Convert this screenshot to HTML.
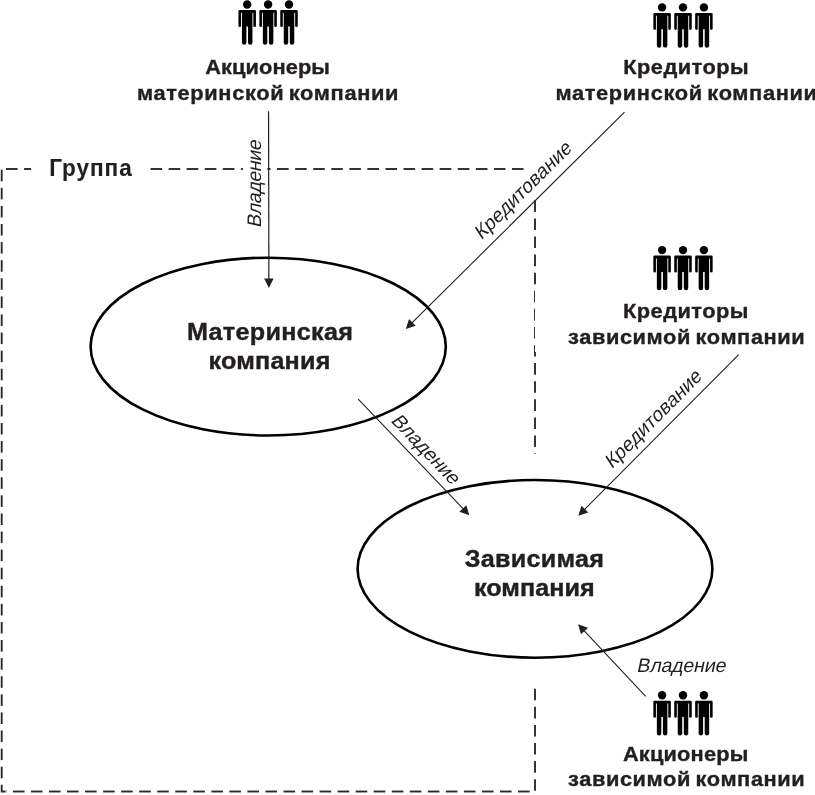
<!DOCTYPE html>
<html><head><meta charset="utf-8"><style>
html,body{margin:0;padding:0;background:#fff;width:815px;height:795px;overflow:hidden}
svg{display:block;will-change:transform}
</style></head><body>
<svg width="815" height="795" viewBox="0 0 815 795">
<g stroke="#2a2a2a" stroke-width="1.9" fill="none"><line x1="1.7" y1="169.70" x2="1.7" y2="181.30"/><line x1="1.7" y1="187.79" x2="1.7" y2="199.39"/><line x1="1.7" y1="205.88" x2="1.7" y2="217.48"/><line x1="1.7" y1="223.97" x2="1.7" y2="235.57"/><line x1="1.7" y1="242.06" x2="1.7" y2="253.66"/><line x1="1.7" y1="260.15" x2="1.7" y2="271.75"/><line x1="1.7" y1="278.24" x2="1.7" y2="289.84"/><line x1="1.7" y1="296.33" x2="1.7" y2="307.93"/><line x1="1.7" y1="314.42" x2="1.7" y2="326.02"/><line x1="1.7" y1="332.51" x2="1.7" y2="344.11"/><line x1="1.7" y1="350.60" x2="1.7" y2="362.20"/><line x1="1.7" y1="368.69" x2="1.7" y2="380.29"/><line x1="1.7" y1="386.78" x2="1.7" y2="398.38"/><line x1="1.7" y1="404.87" x2="1.7" y2="416.47"/><line x1="1.7" y1="422.96" x2="1.7" y2="434.56"/><line x1="1.7" y1="441.05" x2="1.7" y2="452.65"/><line x1="1.7" y1="459.14" x2="1.7" y2="470.74"/><line x1="1.7" y1="477.23" x2="1.7" y2="488.83"/><line x1="1.7" y1="495.32" x2="1.7" y2="506.92"/><line x1="1.7" y1="513.41" x2="1.7" y2="525.01"/><line x1="1.7" y1="531.50" x2="1.7" y2="543.10"/><line x1="1.7" y1="549.59" x2="1.7" y2="561.19"/><line x1="1.7" y1="567.68" x2="1.7" y2="579.28"/><line x1="1.7" y1="585.77" x2="1.7" y2="597.37"/><line x1="1.7" y1="603.86" x2="1.7" y2="615.46"/><line x1="1.7" y1="621.95" x2="1.7" y2="633.55"/><line x1="1.7" y1="640.04" x2="1.7" y2="651.64"/><line x1="1.7" y1="658.13" x2="1.7" y2="669.73"/><line x1="1.7" y1="676.22" x2="1.7" y2="687.82"/><line x1="1.7" y1="694.31" x2="1.7" y2="705.91"/><line x1="1.7" y1="712.40" x2="1.7" y2="724.00"/><line x1="1.7" y1="730.49" x2="1.7" y2="742.09"/><line x1="1.7" y1="748.58" x2="1.7" y2="760.18"/><line x1="1.7" y1="766.67" x2="1.7" y2="778.27"/><line x1="6.00" y1="791.5" x2="6.46" y2="791.5"/><line x1="12.90" y1="791.5" x2="24.50" y2="791.5"/><line x1="30.94" y1="791.5" x2="42.54" y2="791.5"/><line x1="48.98" y1="791.5" x2="60.58" y2="791.5"/><line x1="67.02" y1="791.5" x2="78.62" y2="791.5"/><line x1="85.06" y1="791.5" x2="96.66" y2="791.5"/><line x1="103.10" y1="791.5" x2="114.70" y2="791.5"/><line x1="121.14" y1="791.5" x2="132.74" y2="791.5"/><line x1="139.18" y1="791.5" x2="150.78" y2="791.5"/><line x1="157.22" y1="791.5" x2="168.82" y2="791.5"/><line x1="175.26" y1="791.5" x2="186.86" y2="791.5"/><line x1="193.30" y1="791.5" x2="204.90" y2="791.5"/><line x1="211.34" y1="791.5" x2="222.94" y2="791.5"/><line x1="229.38" y1="791.5" x2="240.98" y2="791.5"/><line x1="247.42" y1="791.5" x2="259.02" y2="791.5"/><line x1="265.46" y1="791.5" x2="277.06" y2="791.5"/><line x1="283.50" y1="791.5" x2="295.10" y2="791.5"/><line x1="301.54" y1="791.5" x2="313.14" y2="791.5"/><line x1="319.58" y1="791.5" x2="331.18" y2="791.5"/><line x1="337.62" y1="791.5" x2="349.22" y2="791.5"/><line x1="355.66" y1="791.5" x2="367.26" y2="791.5"/><line x1="373.70" y1="791.5" x2="385.30" y2="791.5"/><line x1="391.74" y1="791.5" x2="403.34" y2="791.5"/><line x1="409.78" y1="791.5" x2="421.38" y2="791.5"/><line x1="427.82" y1="791.5" x2="439.42" y2="791.5"/><line x1="445.86" y1="791.5" x2="457.46" y2="791.5"/><line x1="463.90" y1="791.5" x2="475.50" y2="791.5"/><line x1="481.94" y1="791.5" x2="493.54" y2="791.5"/><line x1="499.98" y1="791.5" x2="511.58" y2="791.5"/><line x1="518.02" y1="791.5" x2="529.62" y2="791.5"/><path d="M1.7,784.7 V791.5 H5.5" stroke-linejoin="miter"/><line x1="6.00" y1="169" x2="17.60" y2="169"/><line x1="24.07" y1="169" x2="31.10" y2="169"/><line x1="150.56" y1="169" x2="162.16" y2="169"/><line x1="168.63" y1="169" x2="180.23" y2="169"/><line x1="186.70" y1="169" x2="198.30" y2="169"/><line x1="204.77" y1="169" x2="216.37" y2="169"/><line x1="222.84" y1="169" x2="234.44" y2="169"/><line x1="240.91" y1="169" x2="243.00" y2="169"/><line x1="267.30" y1="169" x2="270.58" y2="169"/><line x1="277.05" y1="169" x2="288.65" y2="169"/><line x1="295.12" y1="169" x2="306.72" y2="169"/><line x1="313.19" y1="169" x2="324.79" y2="169"/><line x1="331.26" y1="169" x2="342.86" y2="169"/><line x1="349.33" y1="169" x2="360.93" y2="169"/><line x1="367.40" y1="169" x2="379.00" y2="169"/><line x1="385.47" y1="169" x2="397.07" y2="169"/><line x1="403.54" y1="169" x2="415.14" y2="169"/><line x1="421.61" y1="169" x2="433.21" y2="169"/><line x1="439.68" y1="169" x2="451.28" y2="169"/><line x1="457.75" y1="169" x2="469.35" y2="169"/><line x1="475.82" y1="169" x2="487.42" y2="169"/><line x1="493.89" y1="169" x2="505.49" y2="169"/><line x1="511.96" y1="169" x2="523.56" y2="169"/><line x1="535" y1="200.30" x2="535" y2="211.90"/><line x1="535" y1="218.39" x2="535" y2="229.99"/><line x1="535" y1="236.48" x2="535" y2="248.08"/><line x1="535" y1="254.57" x2="535" y2="266.17"/><line x1="535" y1="272.66" x2="535" y2="284.26"/><line x1="535" y1="290.75" x2="535" y2="302.35"/><line x1="535" y1="308.84" x2="535" y2="320.44"/><line x1="535" y1="326.93" x2="535" y2="338.53"/><line x1="535" y1="345.02" x2="535" y2="356.62"/><line x1="535" y1="363.11" x2="535" y2="374.71"/><line x1="535" y1="381.20" x2="535" y2="392.80"/><line x1="535" y1="399.29" x2="535" y2="410.89"/><line x1="535" y1="417.38" x2="535" y2="428.98"/><line x1="535" y1="435.47" x2="535" y2="447.07"/><line x1="535" y1="453.56" x2="535" y2="454.00"/><line x1="535" y1="688.73" x2="535" y2="700.33"/><line x1="535" y1="706.82" x2="535" y2="718.42"/><line x1="535" y1="724.91" x2="535" y2="736.51"/><line x1="535" y1="743.00" x2="535" y2="754.60"/><line x1="535" y1="761.09" x2="535" y2="772.69"/><line x1="535" y1="779.18" x2="535" y2="790.78"/></g><rect x="535.0" y="290.2" width="4" height="61.8" fill="#fff"/>
<ellipse cx="268.2" cy="346.6" rx="177.6" ry="88.9" fill="none" stroke="#000" stroke-width="2.6"/>
<ellipse cx="535.0" cy="568.85" rx="177.4" ry="88.85" fill="none" stroke="#000" stroke-width="2.6"/>
<g fill="#000"><circle cx="247.20" cy="4.50" r="4.2"/><path d="M238.45,25.70 V11.20 Q238.45,10.00 239.65,10.00 H254.75 Q255.95,10.00 255.95,11.20 V25.70 A1.3,1.3 0 0 1 253.35,25.70 V12.80 H252.45 V26.40 H241.95 V12.80 H241.05 V25.70 A1.3,1.3 0 0 1 238.45,25.70 Z"/><path d="M241.95,25.90 H246.40 V42.50 A2.2,2.2 0 0 1 241.95,42.50 Z"/><path d="M248.00,25.90 H252.45 V42.50 A2.2,2.2 0 0 1 248.00,42.50 Z"/><circle cx="268.10" cy="4.50" r="4.2"/><path d="M259.35,25.70 V11.20 Q259.35,10.00 260.55,10.00 H275.65 Q276.85,10.00 276.85,11.20 V25.70 A1.3,1.3 0 0 1 274.25,25.70 V12.80 H273.35 V26.40 H262.85 V12.80 H261.95 V25.70 A1.3,1.3 0 0 1 259.35,25.70 Z"/><path d="M262.85,25.90 H267.30 V42.50 A2.2,2.2 0 0 1 262.85,42.50 Z"/><path d="M268.90,25.90 H273.35 V42.50 A2.2,2.2 0 0 1 268.90,42.50 Z"/><circle cx="289.00" cy="4.50" r="4.2"/><path d="M280.25,25.70 V11.20 Q280.25,10.00 281.45,10.00 H296.55 Q297.75,10.00 297.75,11.20 V25.70 A1.3,1.3 0 0 1 295.15,25.70 V12.80 H294.25 V26.40 H283.75 V12.80 H282.85 V25.70 A1.3,1.3 0 0 1 280.25,25.70 Z"/><path d="M283.75,25.90 H288.20 V42.50 A2.2,2.2 0 0 1 283.75,42.50 Z"/><path d="M289.80,25.90 H294.25 V42.50 A2.2,2.2 0 0 1 289.80,42.50 Z"/><circle cx="662.10" cy="7.40" r="4.2"/><path d="M653.35,28.60 V14.10 Q653.35,12.90 654.55,12.90 H669.65 Q670.85,12.90 670.85,14.10 V28.60 A1.3,1.3 0 0 1 668.25,28.60 V15.70 H667.35 V29.30 H656.85 V15.70 H655.95 V28.60 A1.3,1.3 0 0 1 653.35,28.60 Z"/><path d="M656.85,28.80 H661.30 V45.40 A2.2,2.2 0 0 1 656.85,45.40 Z"/><path d="M662.90,28.80 H667.35 V45.40 A2.2,2.2 0 0 1 662.90,45.40 Z"/><circle cx="683.00" cy="7.40" r="4.2"/><path d="M674.25,28.60 V14.10 Q674.25,12.90 675.45,12.90 H690.55 Q691.75,12.90 691.75,14.10 V28.60 A1.3,1.3 0 0 1 689.15,28.60 V15.70 H688.25 V29.30 H677.75 V15.70 H676.85 V28.60 A1.3,1.3 0 0 1 674.25,28.60 Z"/><path d="M677.75,28.80 H682.20 V45.40 A2.2,2.2 0 0 1 677.75,45.40 Z"/><path d="M683.80,28.80 H688.25 V45.40 A2.2,2.2 0 0 1 683.80,45.40 Z"/><circle cx="703.90" cy="7.40" r="4.2"/><path d="M695.15,28.60 V14.10 Q695.15,12.90 696.35,12.90 H711.45 Q712.65,12.90 712.65,14.10 V28.60 A1.3,1.3 0 0 1 710.05,28.60 V15.70 H709.15 V29.30 H698.65 V15.70 H697.75 V28.60 A1.3,1.3 0 0 1 695.15,28.60 Z"/><path d="M698.65,28.80 H703.10 V45.40 A2.2,2.2 0 0 1 698.65,45.40 Z"/><path d="M704.70,28.80 H709.15 V45.40 A2.2,2.2 0 0 1 704.70,45.40 Z"/><circle cx="662.10" cy="250.10" r="4.2"/><path d="M653.35,271.30 V256.80 Q653.35,255.60 654.55,255.60 H669.65 Q670.85,255.60 670.85,256.80 V271.30 A1.3,1.3 0 0 1 668.25,271.30 V258.40 H667.35 V272.00 H656.85 V258.40 H655.95 V271.30 A1.3,1.3 0 0 1 653.35,271.30 Z"/><path d="M656.85,271.50 H661.30 V288.10 A2.2,2.2 0 0 1 656.85,288.10 Z"/><path d="M662.90,271.50 H667.35 V288.10 A2.2,2.2 0 0 1 662.90,288.10 Z"/><circle cx="683.00" cy="250.10" r="4.2"/><path d="M674.25,271.30 V256.80 Q674.25,255.60 675.45,255.60 H690.55 Q691.75,255.60 691.75,256.80 V271.30 A1.3,1.3 0 0 1 689.15,271.30 V258.40 H688.25 V272.00 H677.75 V258.40 H676.85 V271.30 A1.3,1.3 0 0 1 674.25,271.30 Z"/><path d="M677.75,271.50 H682.20 V288.10 A2.2,2.2 0 0 1 677.75,288.10 Z"/><path d="M683.80,271.50 H688.25 V288.10 A2.2,2.2 0 0 1 683.80,288.10 Z"/><circle cx="703.90" cy="250.10" r="4.2"/><path d="M695.15,271.30 V256.80 Q695.15,255.60 696.35,255.60 H711.45 Q712.65,255.60 712.65,256.80 V271.30 A1.3,1.3 0 0 1 710.05,271.30 V258.40 H709.15 V272.00 H698.65 V258.40 H697.75 V271.30 A1.3,1.3 0 0 1 695.15,271.30 Z"/><path d="M698.65,271.50 H703.10 V288.10 A2.2,2.2 0 0 1 698.65,288.10 Z"/><path d="M704.70,271.50 H709.15 V288.10 A2.2,2.2 0 0 1 704.70,288.10 Z"/><circle cx="662.10" cy="695.20" r="4.2"/><path d="M653.35,716.40 V701.90 Q653.35,700.70 654.55,700.70 H669.65 Q670.85,700.70 670.85,701.90 V716.40 A1.3,1.3 0 0 1 668.25,716.40 V703.50 H667.35 V717.10 H656.85 V703.50 H655.95 V716.40 A1.3,1.3 0 0 1 653.35,716.40 Z"/><path d="M656.85,716.60 H661.30 V733.20 A2.2,2.2 0 0 1 656.85,733.20 Z"/><path d="M662.90,716.60 H667.35 V733.20 A2.2,2.2 0 0 1 662.90,733.20 Z"/><circle cx="683.00" cy="695.20" r="4.2"/><path d="M674.25,716.40 V701.90 Q674.25,700.70 675.45,700.70 H690.55 Q691.75,700.70 691.75,701.90 V716.40 A1.3,1.3 0 0 1 689.15,716.40 V703.50 H688.25 V717.10 H677.75 V703.50 H676.85 V716.40 A1.3,1.3 0 0 1 674.25,716.40 Z"/><path d="M677.75,716.60 H682.20 V733.20 A2.2,2.2 0 0 1 677.75,733.20 Z"/><path d="M683.80,716.60 H688.25 V733.20 A2.2,2.2 0 0 1 683.80,733.20 Z"/><circle cx="703.90" cy="695.20" r="4.2"/><path d="M695.15,716.40 V701.90 Q695.15,700.70 696.35,700.70 H711.45 Q712.65,700.70 712.65,701.90 V716.40 A1.3,1.3 0 0 1 710.05,716.40 V703.50 H709.15 V717.10 H698.65 V703.50 H697.75 V716.40 A1.3,1.3 0 0 1 695.15,716.40 Z"/><path d="M698.65,716.60 H703.10 V733.20 A2.2,2.2 0 0 1 698.65,733.20 Z"/><path d="M704.70,716.60 H709.15 V733.20 A2.2,2.2 0 0 1 704.70,733.20 Z"/></g>
<line x1="268.55" y1="111.20" x2="268.88" y2="279.60" stroke="#231f20" stroke-width="1.2"/><path d="M268.90,287.90 L264.13,278.61 L273.63,278.59 Z" fill="#231f20"/>
<line x1="624.50" y1="112.20" x2="411.70" y2="323.06" stroke="#231f20" stroke-width="1.1"/><path d="M405.80,328.90 L409.06,318.98 L415.75,325.73 Z" fill="#231f20"/>
<line x1="358.20" y1="399.20" x2="463.56" y2="509.21" stroke="#231f20" stroke-width="1.1"/><path d="M469.30,515.20 L459.44,511.77 L466.30,505.20 Z" fill="#231f20"/>
<line x1="738.70" y1="354.60" x2="584.16" y2="509.82" stroke="#231f20" stroke-width="1.1"/><path d="M578.30,515.70 L581.50,505.76 L588.23,512.46 Z" fill="#231f20"/>
<line x1="645.70" y1="696.30" x2="583.78" y2="630.35" stroke="#231f20" stroke-width="1.1"/><path d="M578.10,624.30 L587.93,627.83 L581.00,634.33 Z" fill="#231f20"/>
<!--T1a--><text transform="translate(267.64,74.00) scale(1.08,1)" x="0" y="0" font-family="Liberation Sans" font-weight="bold" fill="#231f20" stroke="#231f20" stroke-width="0.35" word-spacing="-1.9" font-size="20.2" letter-spacing="0.084" text-anchor="middle">Акционеры</text>
<!--T1b--><text transform="translate(268.01,100.00) scale(1.08,1)" x="0" y="0" font-family="Liberation Sans" font-weight="bold" fill="#231f20" stroke="#231f20" stroke-width="0.35" word-spacing="-1.9" font-size="20.2" letter-spacing="0.596" text-anchor="middle">материнской компании</text>
<!--T2a--><text transform="translate(686.15,74.00) scale(1.08,1)" x="0" y="0" font-family="Liberation Sans" font-weight="bold" fill="#231f20" stroke="#231f20" stroke-width="0.35" word-spacing="-1.9" font-size="20.2" letter-spacing="0.412" text-anchor="middle">Кредиторы</text>
<!--T2b--><text transform="translate(686.52,100.00) scale(1.08,1)" x="0" y="0" font-family="Liberation Sans" font-weight="bold" fill="#231f20" stroke="#231f20" stroke-width="0.35" word-spacing="-1.9" font-size="20.2" letter-spacing="0.596" text-anchor="middle">материнской компании</text>
<!--T3a--><text transform="translate(685.92,318.00) scale(1.08,1)" x="0" y="0" font-family="Liberation Sans" font-weight="bold" fill="#231f20" stroke="#231f20" stroke-width="0.35" word-spacing="-1.9" font-size="20.2" letter-spacing="0.406" text-anchor="middle">Кредиторы</text>
<!--T3b--><text transform="translate(686.70,344.00) scale(1.08,1)" x="0" y="0" font-family="Liberation Sans" font-weight="bold" fill="#231f20" stroke="#231f20" stroke-width="0.35" word-spacing="-1.9" font-size="20.2" letter-spacing="0.548" text-anchor="middle">зависимой компании</text>
<!--T4a--><text transform="translate(685.72,760.80) scale(1.08,1)" x="0" y="0" font-family="Liberation Sans" font-weight="bold" fill="#231f20" stroke="#231f20" stroke-width="0.35" word-spacing="-1.9" font-size="20.2" letter-spacing="0.154" text-anchor="middle">Акционеры</text>
<!--T4b--><text transform="translate(686.70,785.60) scale(1.08,1)" x="0" y="0" font-family="Liberation Sans" font-weight="bold" fill="#231f20" stroke="#231f20" stroke-width="0.35" word-spacing="-1.9" font-size="20.2" letter-spacing="0.548" text-anchor="middle">зависимой компании</text>
<!--E1a--><text transform="translate(270.14,339.70) scale(1.08,1)" x="0" y="0" font-family="Liberation Sans" font-weight="bold" fill="#231f20" stroke="#231f20" stroke-width="0.4" font-size="23.3" letter-spacing="0.304" text-anchor="middle">Материнская</text>
<!--E1b--><text transform="translate(269.50,368.60) scale(1.08,1)" x="0" y="0" font-family="Liberation Sans" font-weight="bold" fill="#231f20" stroke="#231f20" stroke-width="0.4" font-size="23.3" letter-spacing="0.206" text-anchor="middle">компания</text>
<!--E2a--><text transform="translate(534.50,566.90) scale(1.08,1)" x="0" y="0" font-family="Liberation Sans" font-weight="bold" fill="#231f20" stroke="#231f20" stroke-width="0.4" font-size="23.3" letter-spacing="0.260" text-anchor="middle">Зависимая</text>
<!--E2b--><text transform="translate(534.29,595.70) scale(1.08,1)" x="0" y="0" font-family="Liberation Sans" font-weight="bold" fill="#231f20" stroke="#231f20" stroke-width="0.4" font-size="23.3" letter-spacing="0.040" text-anchor="middle">компания</text>
<!--G--><text transform="translate(90.93,175.80) scale(0.96,1)" x="0" y="0" font-family="Liberation Sans" font-weight="bold" fill="#231f20" stroke="#231f20" stroke-width="0.1" font-size="23.5" letter-spacing="1.016" text-anchor="middle">Группа</text>
<g transform="translate(260.50,228.00) rotate(-90.00) skewX(-12)"><text x="0" y="0" font-family="Liberation Sans" fill="#231f20" font-size="19.6" letter-spacing="-0.4">Владение</text></g>
<g transform="translate(636.30,672.00) rotate(0.00) skewX(-12)"><text x="0" y="0" font-family="Liberation Sans" fill="#231f20" font-size="19.6" letter-spacing="-0.2">Владение</text></g>
<g transform="translate(390.00,421.00) rotate(46.30) skewX(-12)"><text x="0" y="0" font-family="Liberation Sans" fill="#231f20" font-size="19.6" letter-spacing="-0.2">Владение</text></g>
<g transform="translate(481.30,240.50) rotate(-44.73) skewX(-12)"><text x="0" y="0" font-family="Liberation Sans" fill="#231f20" font-size="19.6" letter-spacing="0.03">Кредитование</text></g>
<g transform="translate(611.65,469.55) rotate(-45.10) skewX(-12)"><text x="0" y="0" font-family="Liberation Sans" fill="#231f20" font-size="19.6" letter-spacing="0.05">Кредитование</text></g>
</svg>
</body></html>
